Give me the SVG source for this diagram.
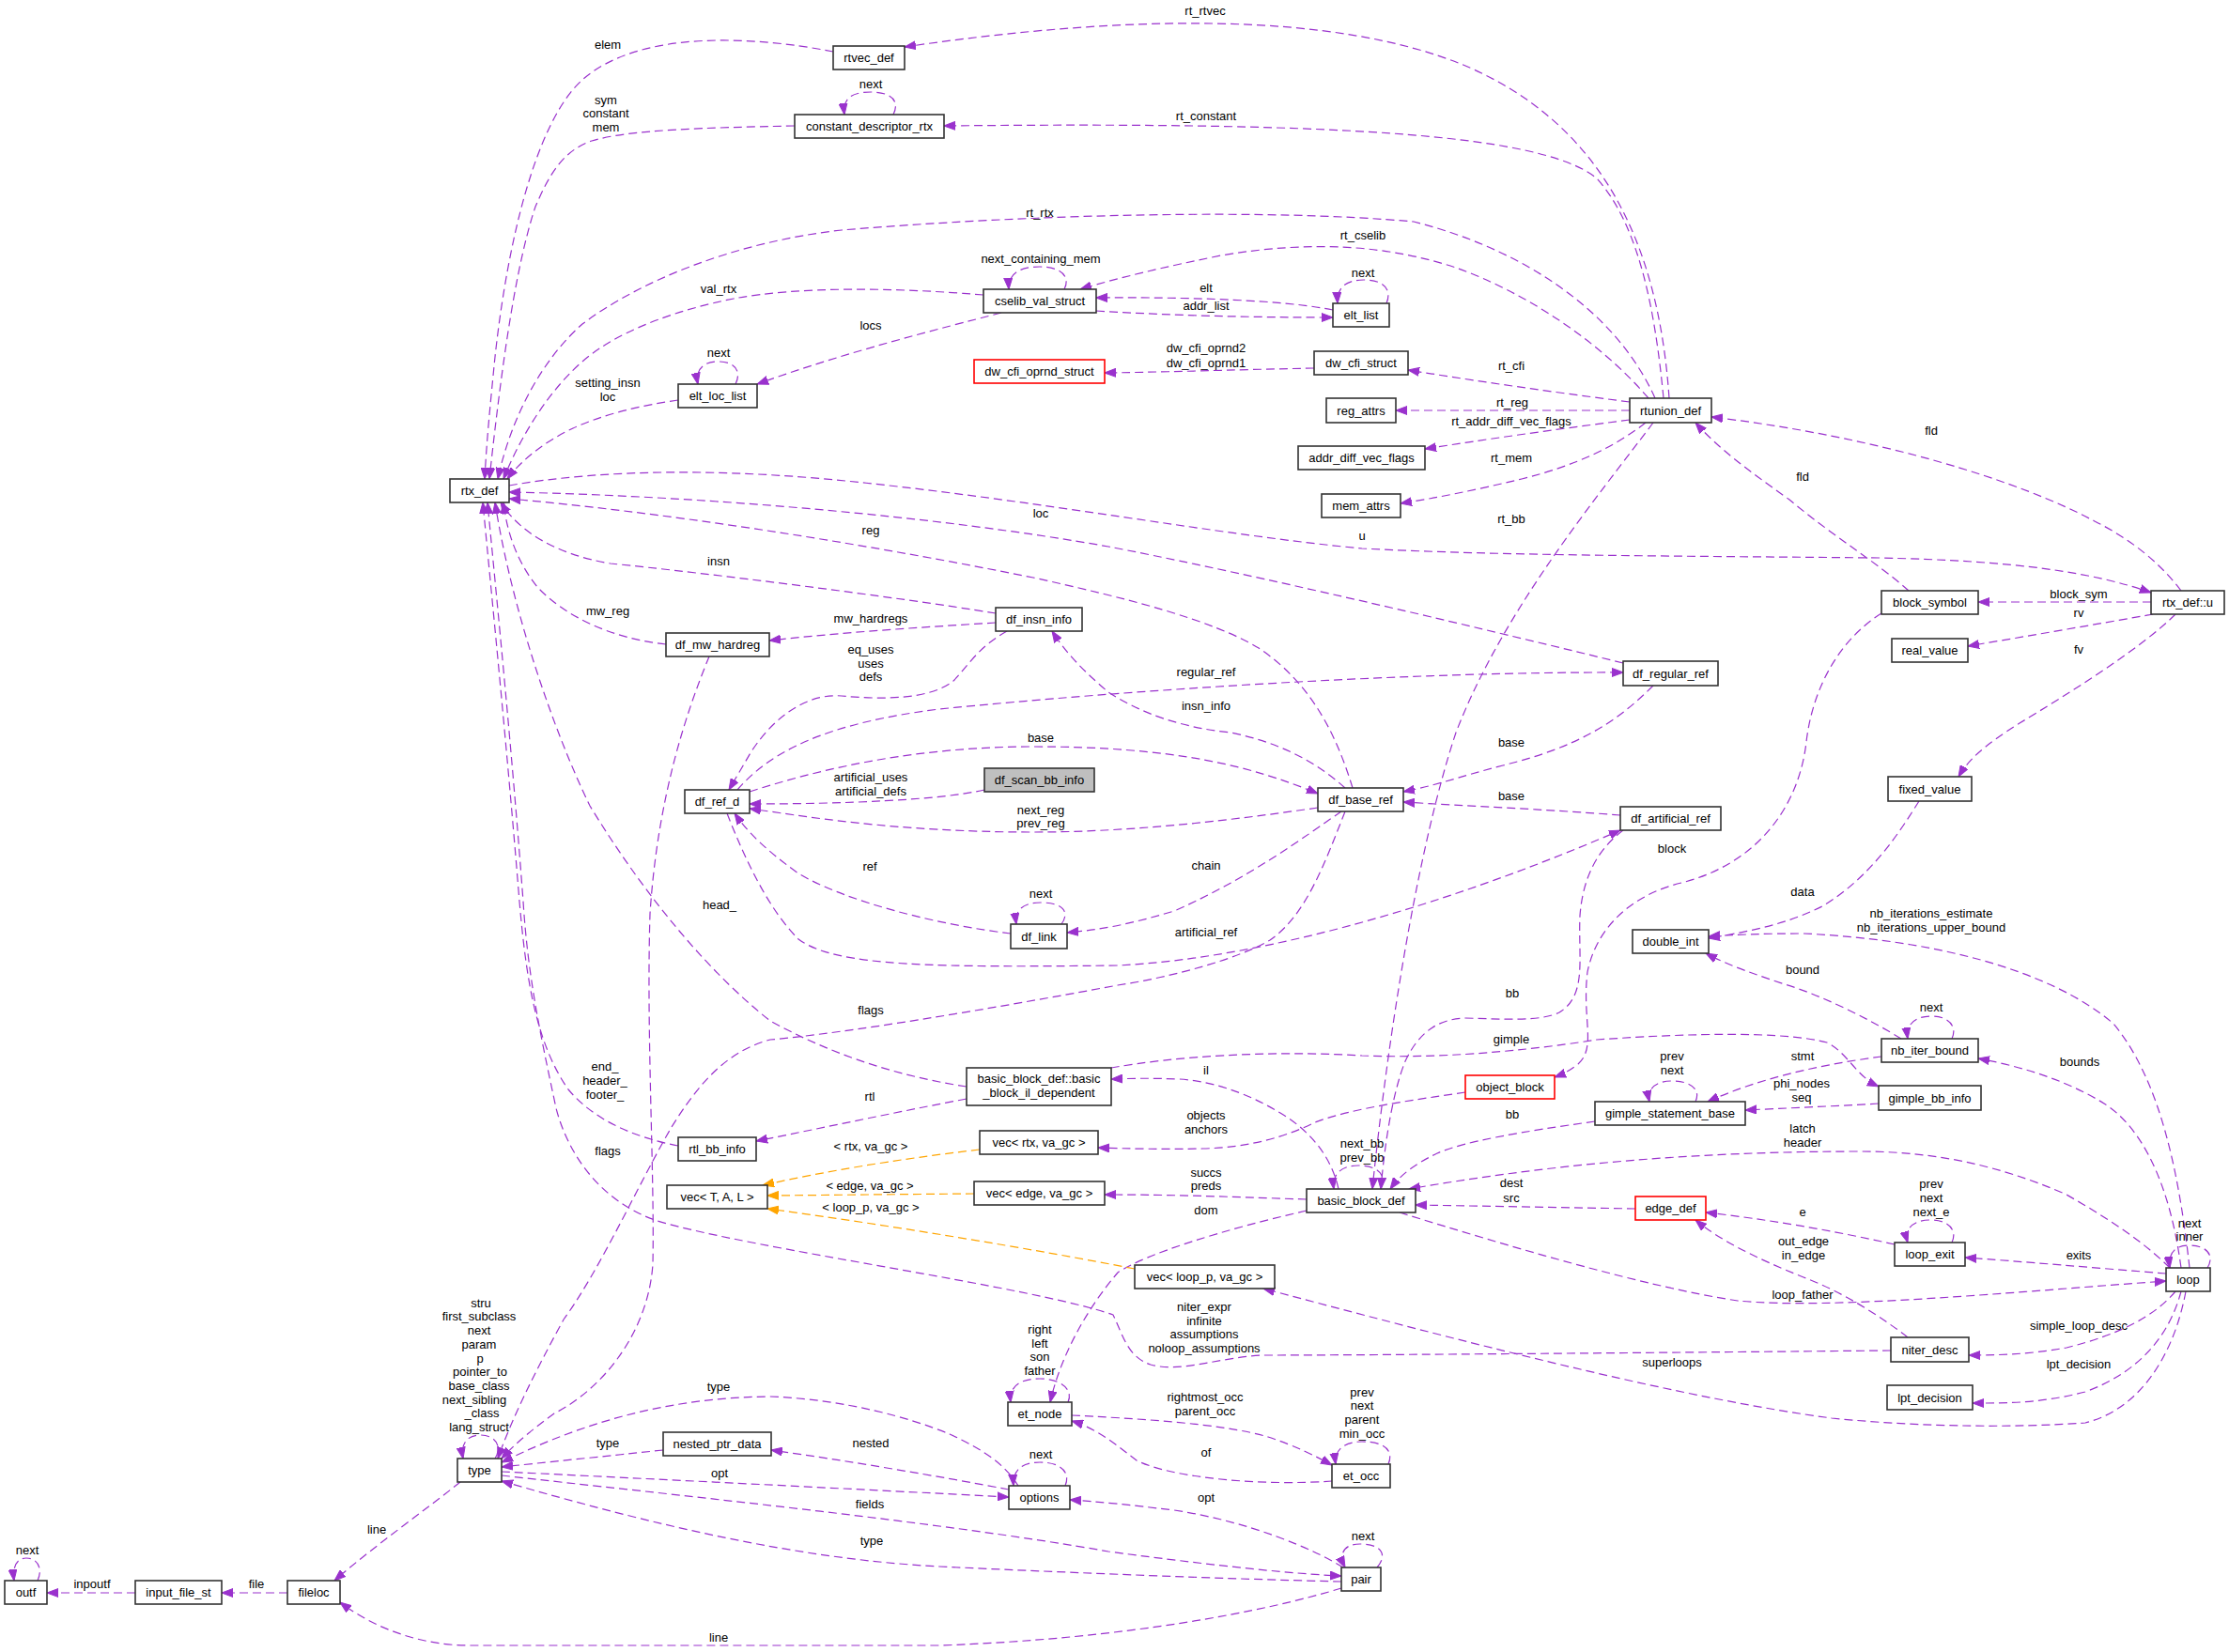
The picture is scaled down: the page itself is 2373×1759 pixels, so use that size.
<svg xmlns="http://www.w3.org/2000/svg" width="2373" height="1759" viewBox="0 0 2373 1759">
<style>
text{font-family:"Liberation Sans",Arial,sans-serif;font-size:13px;text-anchor:middle;fill:#000}
.n rect{fill:#fff;stroke:#333;stroke-width:1.6}
.n.red rect{stroke:#ff0000}
.n.gray rect{fill:#bfbfbf}
#edges path{fill:none;stroke:#9a32cd;stroke-width:1.2;stroke-dasharray:9,5;marker-end:url(#a)}
#edges path.t{stroke:#ffa500;marker-end:url(#ao)}
</style>
<defs>
<marker id="a" markerUnits="userSpaceOnUse" markerWidth="13" markerHeight="10" refX="12" refY="5" orient="auto"><path d="M0,0.5 L12,5 L0,9.5 z" fill="#9a32cd" stroke="#9a32cd"/></marker>
<marker id="ao" markerUnits="userSpaceOnUse" markerWidth="13" markerHeight="10" refX="12" refY="5" orient="auto"><path d="M0,0.5 L12,5 L0,9.5 z" fill="#ffa500" stroke="#ffa500"/></marker>
</defs>
<rect width="2373" height="1759" fill="#fff"/>
<g id="edges">
<path d="M887,55 C800,38 680,32 620,85 C570,130 540,260 527,380 C522,430 518,470 516,510"/>
<path d="M846,134 C750,136 670,138 630,150 C600,160 585,185 570,220 C550,280 535,380 521,510"/>
<path d="M1762,424 C1720,330 1620,265 1505,236 C1350,222 1100,228 896,245 C780,258 680,300 620,345 C580,380 545,440 530,510"/>
<path d="M1777,424 C1765,250 1700,130 1560,70 C1420,12 1200,15 963,50"/>
<path d="M1771,424 C1762,330 1745,240 1700,190 C1640,140 1400,130 1005,134"/>
<path d="M1755,424 C1700,360 1620,310 1550,285 C1480,262 1400,255 1300,272 C1240,284 1190,296 1150,308"/>
<path d="M1133,308 C1140,295 1130,284 1107,284 C1085,284 1073,292 1074,308"/>
<path d="M1419,330 C1380,322 1300,316 1167,317"/>
<path d="M1167,331 C1250,336 1330,338 1419,338"/>
<path d="M1476,323 C1482,309 1474,298 1452,298 C1433,298 1423,306 1424,323"/>
<path d="M951,122 C958,108 950,98 927,98 C905,98 897,106 899,122"/>
<path d="M1047,314 C950,306 850,305 781,318 C720,330 670,350 640,370 C600,395 560,450 536,510"/>
<path d="M1066,333 C1000,350 900,375 806,409"/>
<path d="M783,409 C790,395 782,385 765,385 C748,385 740,394 743,409"/>
<path d="M722,426 C680,432 640,442 610,456 C580,470 555,490 540,510"/>
<path d="M1399,392 C1300,394 1250,396 1176,397"/>
<path d="M1735,428 C1650,417 1580,407 1499,394"/>
<path d="M1735,437 L1486,437"/>
<path d="M1735,447 C1650,458 1580,468 1517,478"/>
<path d="M1752,450 C1720,475 1680,495 1620,510 C1570,522 1530,530 1491,536"/>
<path d="M1760,450 C1700,530 1600,650 1550,780 C1510,900 1478,1100 1461,1266"/>
<path d="M2322,629 C2300,600 2270,575 2230,555 C2150,512 2000,465 1822,444"/>
<path d="M2032,629 C2000,600 1950,570 1905,532 C1860,500 1830,478 1805,450"/>
<path d="M542,517 C650,498 780,500 900,512 C1100,532 1300,570 1450,584 C1600,592 1800,592 2000,594 C2150,597 2230,610 2290,631"/>
<path d="M1728,706 C1500,650 1300,605 1180,582 C1000,550 750,528 542,524"/>
<path d="M1440,839 C1425,790 1400,730 1340,690 C1290,660 1200,637 1100,615 C900,575 700,545 542,531"/>
<path d="M1060,653 C950,635 750,610 650,600 C590,590 552,565 533,535"/>
<path d="M709,686 C650,680 600,655 572,625 C552,600 540,570 536,535"/>
<path d="M1060,663 C980,668 900,673 819,682"/>
<path d="M1072,672 C1040,690 1030,710 1015,725 C990,745 940,745 896,741 C860,738 825,762 800,800 L776,841"/>
<path d="M785,841 C820,800 880,770 1000,755 C1200,735 1500,715 1728,716"/>
<path d="M798,843 C900,810 1000,795 1100,795 C1250,795 1330,815 1403,845"/>
<path d="M1048,841 C1000,852 900,856 798,856"/>
<path d="M1403,860 C1300,875 1200,886 1100,886 C950,886 850,868 798,861"/>
<path d="M1076,994 C1000,985 900,960 850,930 C815,905 795,885 782,866"/>
<path d="M1432,839 C1400,810 1360,790 1310,780 C1260,775 1215,760 1180,737 C1160,720 1138,700 1120,672"/>
<path d="M1428,864 C1390,890 1330,935 1250,970 C1200,985 1170,990 1136,993"/>
<path d="M1130,984 C1140,970 1130,961 1108,961 C1088,961 1080,970 1082,984"/>
<path d="M774,866 C795,920 820,970 850,1000 C890,1030 1000,1030 1190,1028 C1350,1020 1550,960 1725,884"/>
<path d="M1432,864 C1410,920 1390,975 1352,1001 C1320,1020 1250,1040 1190,1049 C1050,1075 900,1100 820,1107 C770,1120 740,1160 715,1200 C680,1260 640,1350 600,1405 C570,1460 545,1510 530,1553"/>
<path d="M755,699 C730,760 700,850 692,973 C688,1100 697,1250 695,1346 C690,1420 640,1480 590,1505 C570,1520 550,1535 534,1553"/>
<path d="M1029,1157 C950,1145 880,1120 820,1087 C760,1040 690,960 628,858 C590,780 545,650 527,535"/>
<path d="M722,1220 C670,1210 630,1190 605,1160 C570,1110 560,1040 553,960 C540,800 525,650 514,535"/>
<path d="M2013,1438 C1800,1440 1450,1443 1344,1443 C1300,1445 1256,1462 1225,1453 C1200,1445 1195,1420 1185,1400 C1100,1370 800,1330 700,1300 C640,1280 605,1230 592,1180 C575,1100 562,1040 557,960 C545,800 530,650 519,535"/>
<path d="M1760,730 C1720,770 1680,795 1600,815 C1550,828 1530,836 1494,843"/>
<path d="M1725,868 C1650,862 1560,858 1494,854"/>
<path d="M2003,653 C1960,680 1930,730 1923,790 C1915,860 1870,920 1790,940 C1740,952 1700,985 1690,1035 C1684,1085 1700,1115 1680,1133 C1670,1141 1663,1144 1655,1147"/>
<path d="M1728,884 C1700,905 1685,935 1682,975 C1680,1020 1690,1060 1660,1078 C1640,1088 1600,1085 1560,1084 C1530,1085 1510,1100 1496,1130 C1482,1165 1474,1220 1470,1266"/>
<path d="M1183,1137 C1250,1125 1350,1118 1450,1124 C1550,1128 1650,1115 1700,1107 C1800,1100 1900,1098 1945,1110 C1968,1122 1975,1145 2000,1157"/>
<path d="M1425,1266 C1418,1235 1400,1210 1371,1190 C1340,1170 1300,1152 1256,1149 C1230,1148 1210,1148 1183,1149"/>
<path d="M1029,1170 C950,1185 880,1200 805,1215"/>
<path d="M1560,1163 C1500,1172 1440,1180 1400,1195 C1370,1210 1330,1222 1280,1223 C1240,1224 1200,1223 1169,1222"/>
<path d="M1391,1277 C1300,1274 1250,1272 1176,1272"/>
<path d="M1391,1289 C1300,1310 1220,1335 1190,1355 C1160,1390 1130,1440 1118,1493"/>
<path d="M1137,1493 C1143,1480 1130,1468 1107,1468 C1086,1468 1074,1476 1076,1493"/>
<path d="M1141,1507 C1200,1510 1300,1515 1350,1530 C1380,1540 1400,1550 1418,1560"/>
<path d="M1418,1577 C1350,1582 1250,1575 1210,1555 C1190,1540 1170,1522 1141,1513"/>
<path d="M1478,1559 C1484,1545 1475,1535 1450,1535 C1430,1535 1420,1545 1422,1559"/>
<path d="M1466,1669 C1478,1655 1470,1644 1448,1644 C1430,1644 1425,1655 1432,1669"/>
<path d="M1134,1582 C1140,1568 1130,1557 1107,1557 C1087,1557 1078,1566 1079,1582"/>
<path d="M1084,1582 C1070,1560 1050,1545 1011,1527 C970,1510 900,1490 820,1487 C720,1488 630,1510 534,1557"/>
<path d="M1074,1586 C1000,1572 900,1555 821,1544"/>
<path d="M706,1544 C650,1550 600,1555 534,1562"/>
<path d="M534,1567 C700,1575 900,1585 1074,1594"/>
<path d="M534,1571 C700,1590 1000,1620 1180,1652 C1300,1668 1380,1676 1428,1678"/>
<path d="M1428,1684 C1300,1681 1150,1675 1000,1668 C850,1660 700,1625 534,1577"/>
<path d="M1430,1669 C1400,1650 1330,1620 1250,1608 C1200,1602 1170,1599 1139,1597"/>
<path d="M1428,1691 C1350,1715 1200,1745 1000,1752 L500,1752 C450,1752 400,1735 362,1706"/>
<path d="M490,1578 C450,1610 400,1645 356,1683"/>
<path d="M306,1696 L236,1696"/>
<path d="M144,1696 L50,1696"/>
<path d="M40,1683 C46,1670 40,1659 28,1659 C18,1659 13,1668 15,1683"/>
<path d="M527,1553 C535,1540 528,1528 511,1528 C497,1528 490,1538 493,1553"/>
<path class="t" d="M1043,1224 C950,1235 880,1247 812,1262"/>
<path class="t" d="M1037,1271 L817,1273"/>
<path class="t" d="M1208,1351 C1100,1330 950,1305 817,1287"/>
<path d="M1470,1266 C1478,1250 1465,1241 1446,1241 C1428,1241 1418,1250 1420,1266"/>
<path d="M1741,1287 L1507,1283"/>
<path d="M2310,1350 C2280,1320 2240,1295 2200,1272 C2120,1237 2050,1226 1980,1226 C1800,1226 1650,1240 1500,1266"/>
<path d="M1698,1194 C1620,1205 1560,1215 1530,1228 C1505,1240 1490,1252 1480,1266"/>
<path d="M1490,1291 C1600,1325 1750,1370 1850,1385 C1950,1395 2150,1375 2306,1364"/>
<path d="M2017,1325 C1950,1310 1880,1298 1816,1291"/>
<path d="M2031,1424 C2000,1400 1960,1375 1920,1360 C1870,1340 1830,1320 1805,1299"/>
<path d="M2306,1356 C2230,1350 2150,1343 2092,1339"/>
<path d="M2078,1323 C2084,1310 2075,1299 2055,1299 C2035,1299 2027,1310 2031,1323"/>
<path d="M2316,1375 C2295,1400 2260,1420 2200,1435 C2160,1442 2130,1443 2096,1443"/>
<path d="M2322,1375 C2310,1420 2280,1460 2220,1482 C2170,1495 2130,1494 2100,1494"/>
<path d="M2327,1375 C2315,1440 2280,1500 2220,1515 C2150,1520 2050,1520 1950,1510 C1800,1490 1600,1440 1345,1372"/>
<path d="M2322,1350 C2310,1260 2280,1200 2240,1175 C2200,1150 2150,1135 2106,1127"/>
<path d="M2331,1350 C2320,1250 2300,1150 2250,1090 C2180,1030 2050,1000 1920,994 C1880,994 1850,995 1819,997"/>
<path d="M2043,853 C2020,890 1990,935 1940,965 C1900,985 1860,992 1819,999"/>
<path d="M2024,1106 C1990,1085 1940,1060 1900,1048 C1870,1038 1840,1028 1816,1015"/>
<path d="M2078,1106 C2084,1093 2075,1082 2056,1082 C2037,1082 2029,1092 2031,1106"/>
<path d="M2003,1125 C1950,1132 1880,1145 1818,1173"/>
<path d="M2000,1175 C1950,1178 1900,1180 1858,1182"/>
<path d="M1805,1173 C1811,1160 1800,1151 1780,1151 C1762,1151 1753,1160 1756,1173"/>
<path d="M2290,641 L2106,641"/>
<path d="M2292,654 C2230,665 2160,677 2095,688"/>
<path d="M2316,654 C2280,690 2200,740 2150,770 C2110,795 2095,810 2085,827"/>
<path d="M2350,1350 C2358,1337 2350,1326 2330,1326 C2315,1326 2308,1335 2310,1350"/>
</g>
<g id="labels">
<text x="647" y="52">elem</text>
<text x="645" y="111">sym</text><text x="645" y="125">constant</text><text x="645" y="140">mem</text>
<text x="927" y="94">next</text>
<text x="1283" y="16">rt_rtvec</text>
<text x="1284" y="128">rt_constant</text>
<text x="1107" y="231">rt_rtx</text>
<text x="1451" y="255">rt_cselib</text>
<text x="1108" y="280">next_containing_mem</text>
<text x="1451" y="295">next</text>
<text x="1284" y="311">elt</text>
<text x="1284" y="330">addr_list</text>
<text x="765" y="312">val_rtx</text>
<text x="927" y="351">locs</text>
<text x="765" y="380">next</text>
<text x="1284" y="375">dw_cfi_oprnd2</text><text x="1284" y="391">dw_cfi_oprnd1</text>
<text x="1609" y="394">rt_cfi</text>
<text x="647" y="412">setting_insn</text><text x="647" y="427">loc</text>
<text x="1610" y="433">rt_reg</text>
<text x="1609" y="453">rt_addr_diff_vec_flags</text>
<text x="2056" y="463">fld</text>
<text x="1609" y="492">rt_mem</text>
<text x="1919" y="512">fld</text>
<text x="1108" y="551">loc</text>
<text x="1609" y="557">rt_bb</text>
<text x="927" y="569">reg</text>
<text x="1450" y="575">u</text>
<text x="765" y="602">insn</text>
<text x="2213" y="637">block_sym</text>
<text x="647" y="655">mw_reg</text>
<text x="2213" y="657">rv</text>
<text x="927" y="663">mw_hardregs</text>
<text x="2213" y="696">fv</text>
<text x="927" y="696">eq_uses</text><text x="927" y="711">uses</text><text x="927" y="725">defs</text>
<text x="1284" y="720">regular_ref</text>
<text x="1284" y="756">insn_info</text>
<text x="1108" y="790">base</text>
<text x="1609" y="795">base</text>
<text x="927" y="832">artificial_uses</text><text x="927" y="847">artificial_defs</text>
<text x="1609" y="852">base</text>
<text x="1108" y="867">next_reg</text><text x="1108" y="881">prev_reg</text>
<text x="1780" y="908">block</text>
<text x="1284" y="926">chain</text>
<text x="926" y="927">ref</text>
<text x="1919" y="954">data</text>
<text x="1108" y="956">next</text>
<text x="766" y="968">head_</text>
<text x="2056" y="977">nb_iterations_estimate</text><text x="2056" y="992">nb_iterations_upper_bound</text>
<text x="1284" y="997">artificial_ref</text>
<text x="1919" y="1037">bound</text>
<text x="1610" y="1062">bb</text>
<text x="2056" y="1077">next</text>
<text x="927" y="1080">flags</text>
<text x="1609" y="1111">gimple</text>
<text x="1780" y="1129">prev</text><text x="1780" y="1144">next</text>
<text x="1919" y="1129">stmt</text>
<text x="2214" y="1135">bounds</text>
<text x="644" y="1140">end_</text><text x="644" y="1155">header_</text><text x="644" y="1170">footer_</text>
<text x="1284" y="1144">il</text>
<text x="1918" y="1158">phi_nodes</text><text x="1918" y="1173">seq</text>
<text x="926" y="1172">rtl</text>
<text x="1610" y="1191">bb</text>
<text x="1284" y="1192">objects</text><text x="1284" y="1207">anchors</text>
<text x="1919" y="1206">latch</text><text x="1919" y="1221">header</text>
<text x="1450" y="1222">next_bb</text><text x="1450" y="1237">prev_bb</text>
<text x="927" y="1225">&lt; rtx, va_gc &gt;</text>
<text x="647" y="1230">flags</text>
<text x="1284" y="1253">succs</text><text x="1284" y="1267">preds</text>
<text x="1609" y="1264">dest</text><text x="1609" y="1280">src</text>
<text x="2056" y="1265">prev</text><text x="2056" y="1280">next</text><text x="2056" y="1295">next_e</text>
<text x="926" y="1267">&lt; edge, va_gc &gt;</text>
<text x="927" y="1290">&lt; loop_p, va_gc &gt;</text>
<text x="1284" y="1293">dom</text>
<text x="1919" y="1295">e</text>
<text x="2331" y="1307">next</text><text x="2331" y="1321">inner</text>
<text x="1920" y="1326">out_edge</text><text x="1920" y="1341">in_edge</text>
<text x="2213" y="1341">exits</text>
<text x="1919" y="1383">loop_father</text>
<text x="512" y="1392">stru</text><text x="510" y="1406">first_subclass</text><text x="510" y="1421">next</text><text x="510" y="1436">param</text><text x="511" y="1451">p</text><text x="511" y="1465">pointer_to</text><text x="510" y="1480">base_class</text><text x="505" y="1495">next_sibling</text><text x="513" y="1509">_class</text><text x="510" y="1524">lang_struct</text>
<text x="1282" y="1396">niter_expr</text><text x="1282" y="1411">infinite</text><text x="1282" y="1425">assumptions</text><text x="1282" y="1440">noloop_assumptions</text>
<text x="2213" y="1416">simple_loop_desc</text>
<text x="1107" y="1420">right</text><text x="1107" y="1435">left</text><text x="1107" y="1449">son</text><text x="1107" y="1464">father</text>
<text x="1780" y="1455">superloops</text>
<text x="2213" y="1457">lpt_decision</text>
<text x="765" y="1481">type</text>
<text x="1283" y="1492">rightmost_occ</text><text x="1283" y="1507">parent_occ</text>
<text x="1450" y="1487">prev</text><text x="1450" y="1501">next</text><text x="1450" y="1516">parent</text><text x="1450" y="1531">min_occ</text>
<text x="647" y="1541">type</text>
<text x="927" y="1541">nested</text>
<text x="1284" y="1551">of</text>
<text x="1108" y="1553">next</text>
<text x="766" y="1573">opt</text>
<text x="1284" y="1599">opt</text>
<text x="926" y="1606">fields</text>
<text x="401" y="1633">line</text>
<text x="1451" y="1640">next</text>
<text x="928" y="1645">type</text>
<text x="29" y="1655">next</text>
<text x="98" y="1691">inpoutf</text>
<text x="273" y="1691">file</text>
<text x="765" y="1748">line</text>
</g>
<g id="n_rtx_def" class="n"><rect x="479" y="510" width="63" height="25"/><text x="510.5" y="527">rtx_def</text></g>
<g id="n_rtvec_def" class="n"><rect x="887" y="49" width="76" height="25"/><text x="925" y="66">rtvec_def</text></g>
<g id="n_constant_descriptor_rtx" class="n"><rect x="846" y="122" width="159" height="25"/><text x="925.5" y="139">constant_descriptor_rtx</text></g>
<g id="n_cselib_val_struct" class="n"><rect x="1047" y="308" width="120" height="25"/><text x="1107" y="325">cselib_val_struct</text></g>
<g id="n_elt_list" class="n"><rect x="1419" y="323" width="60" height="25"/><text x="1449" y="340">elt_list</text></g>
<g id="n_elt_loc_list" class="n"><rect x="722" y="409" width="84" height="25"/><text x="764" y="426">elt_loc_list</text></g>
<g id="n_dw_cfi_oprnd_struct" class="n red"><rect x="1037" y="383" width="139" height="25"/><text x="1106.5" y="400">dw_cfi_oprnd_struct</text></g>
<g id="n_dw_cfi_struct" class="n"><rect x="1399" y="374" width="100" height="25"/><text x="1449" y="391">dw_cfi_struct</text></g>
<g id="n_reg_attrs" class="n"><rect x="1412" y="424" width="74" height="26"/><text x="1449" y="441.5">reg_attrs</text></g>
<g id="n_addr_diff_vec_flags" class="n"><rect x="1382" y="475" width="135" height="25"/><text x="1449.5" y="492">addr_diff_vec_flags</text></g>
<g id="n_mem_attrs" class="n"><rect x="1407" y="526" width="84" height="25"/><text x="1449" y="543">mem_attrs</text></g>
<g id="n_rtunion_def" class="n"><rect x="1735" y="424" width="87" height="26"/><text x="1778.5" y="441.5">rtunion_def</text></g>
<g id="n_df_insn_info" class="n"><rect x="1060" y="647" width="92" height="25"/><text x="1106" y="664">df_insn_info</text></g>
<g id="n_df_mw_hardreg" class="n"><rect x="709" y="674" width="110" height="25"/><text x="764" y="691">df_mw_hardreg</text></g>
<g id="n_df_scan_bb_info" class="n gray"><rect x="1048" y="818" width="117" height="25"/><text x="1106.5" y="835">df_scan_bb_info</text></g>
<g id="n_df_ref_d" class="n"><rect x="729" y="841" width="69" height="25"/><text x="763.5" y="858">df_ref_d</text></g>
<g id="n_df_link" class="n"><rect x="1076" y="984" width="60" height="26"/><text x="1106" y="1001.5">df_link</text></g>
<g id="n_bb_il_dependent" class="n"><rect x="1029" y="1137" width="154" height="40"/><text x="1106" y="1153">basic_block_def::basic</text><text x="1106" y="1168">_block_il_dependent</text></g>
<g id="n_df_regular_ref" class="n"><rect x="1728" y="704" width="101" height="26"/><text x="1778.5" y="721.5">df_regular_ref</text></g>
<g id="n_df_base_ref" class="n"><rect x="1403" y="839" width="91" height="25"/><text x="1448.5" y="856">df_base_ref</text></g>
<g id="n_df_artificial_ref" class="n"><rect x="1725" y="859" width="107" height="25"/><text x="1778.5" y="876">df_artificial_ref</text></g>
<g id="n_double_int" class="n"><rect x="1738" y="990" width="81" height="25"/><text x="1778.5" y="1007">double_int</text></g>
<g id="n_object_block" class="n red"><rect x="1560" y="1145" width="95" height="25"/><text x="1607.5" y="1162">object_block</text></g>
<g id="n_gimple_statement_base" class="n"><rect x="1698" y="1173" width="160" height="25"/><text x="1778" y="1190">gimple_statement_base</text></g>
<g id="n_block_symbol" class="n"><rect x="2003" y="629" width="103" height="25"/><text x="2054.5" y="646">block_symbol</text></g>
<g id="n_rtx_def_u" class="n"><rect x="2290" y="629" width="78" height="25"/><text x="2329" y="646">rtx_def::u</text></g>
<g id="n_real_value" class="n"><rect x="2014" y="680" width="81" height="25"/><text x="2054.5" y="697">real_value</text></g>
<g id="n_fixed_value" class="n"><rect x="2010" y="827" width="89" height="26"/><text x="2054.5" y="844.5">fixed_value</text></g>
<g id="n_nb_iter_bound" class="n"><rect x="2003" y="1106" width="103" height="25"/><text x="2054.5" y="1123">nb_iter_bound</text></g>
<g id="n_gimple_bb_info" class="n"><rect x="2000" y="1156" width="109" height="26"/><text x="2054.5" y="1173.5">gimple_bb_info</text></g>
<g id="n_type" class="n"><rect x="487" y="1553" width="47" height="25"/><text x="510.5" y="1570">type</text></g>
<g id="n_outf" class="n"><rect x="5" y="1683" width="45" height="25"/><text x="27.5" y="1700">outf</text></g>
<g id="n_input_file_st" class="n"><rect x="144" y="1683" width="92" height="25"/><text x="190" y="1700">input_file_st</text></g>
<g id="n_fileloc" class="n"><rect x="306" y="1683" width="56" height="25"/><text x="334" y="1700">fileloc</text></g>
<g id="n_rtl_bb_info" class="n"><rect x="722" y="1211" width="83" height="25"/><text x="763.5" y="1228">rtl_bb_info</text></g>
<g id="n_vec_T_A_L" class="n"><rect x="710" y="1262" width="107" height="25"/><text x="763.5" y="1279">vec&lt; T, A, L &gt;</text></g>
<g id="n_vec_rtx" class="n"><rect x="1043" y="1204" width="126" height="25"/><text x="1106" y="1221">vec&lt; rtx, va_gc &gt;</text></g>
<g id="n_vec_edge" class="n"><rect x="1037" y="1258" width="139" height="25"/><text x="1106.5" y="1275">vec&lt; edge, va_gc &gt;</text></g>
<g id="n_et_node" class="n"><rect x="1073" y="1493" width="68" height="25"/><text x="1107" y="1510">et_node</text></g>
<g id="n_nested_ptr_data" class="n"><rect x="706" y="1525" width="115" height="25"/><text x="763.5" y="1542">nested_ptr_data</text></g>
<g id="n_options" class="n"><rect x="1074" y="1582" width="65" height="25"/><text x="1106.5" y="1599">options</text></g>
<g id="n_basic_block_def" class="n"><rect x="1391" y="1266" width="116" height="25"/><text x="1449" y="1283">basic_block_def</text></g>
<g id="n_edge_def" class="n red"><rect x="1741" y="1274" width="75" height="25"/><text x="1778.5" y="1291">edge_def</text></g>
<g id="n_vec_loop_p" class="n"><rect x="1208" y="1347" width="149" height="25"/><text x="1282.5" y="1364">vec&lt; loop_p, va_gc &gt;</text></g>
<g id="n_et_occ" class="n"><rect x="1418" y="1559" width="62" height="25"/><text x="1449" y="1576">et_occ</text></g>
<g id="n_pair" class="n"><rect x="1428" y="1669" width="42" height="25"/><text x="1449" y="1686">pair</text></g>
<g id="n_loop_exit" class="n"><rect x="2017" y="1323" width="75" height="25"/><text x="2054.5" y="1340">loop_exit</text></g>
<g id="n_loop" class="n"><rect x="2306" y="1350" width="47" height="25"/><text x="2329.5" y="1367">loop</text></g>
<g id="n_niter_desc" class="n"><rect x="2013" y="1424" width="83" height="26"/><text x="2054.5" y="1441.5">niter_desc</text></g>
<g id="n_lpt_decision" class="n"><rect x="2009" y="1475" width="91" height="26"/><text x="2054.5" y="1492.5">lpt_decision</text></g>
</svg>
